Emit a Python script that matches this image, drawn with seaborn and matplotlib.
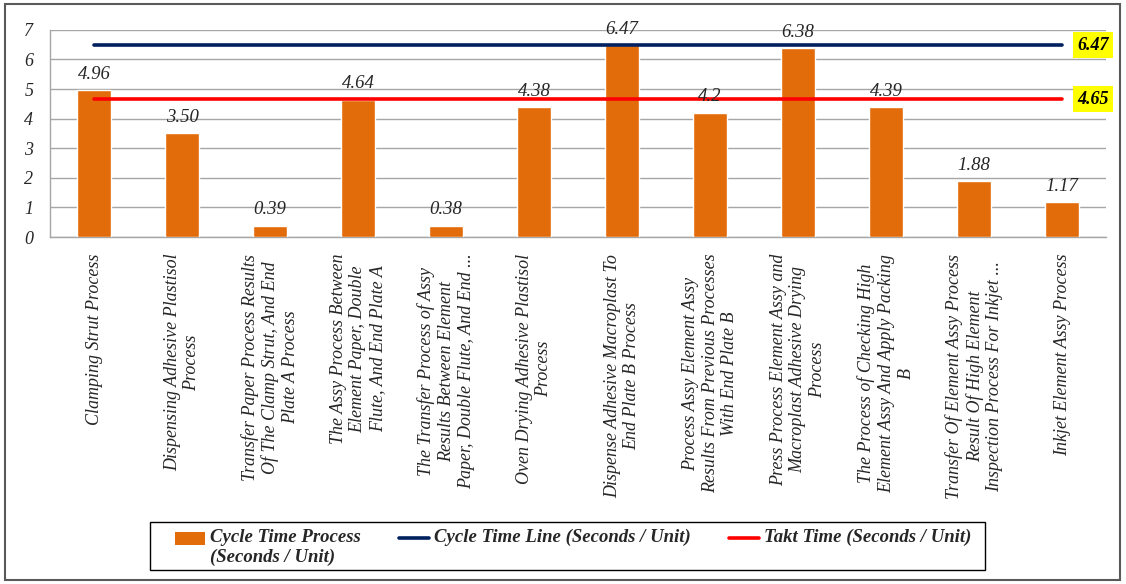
import matplotlib
matplotlib.use("Agg")
import matplotlib.pyplot as plt
import numpy as np
import pandas as pd
import seaborn as sns
from matplotlib.patches import Rectangle, Patch
from matplotlib.lines import Line2D

categories = [
    "Clamping Strut Process",
    "Dispensing Adhesive Plastisol\nProcess",
    "Transfer Paper Process Results\nOf The Clamp Strut, And End\nPlate A Process",
    "The Assy Process Between\nElement Paper, Double\nFlute, And End Plate A",
    "The Transfer Process of Assy\nResults Between Element\nPaper, Double Flute, And End ...",
    "Oven Drying Adhesive Plastisol\nProcess",
    "Dispense Adhesive Macroplast To\nEnd Plate B Process",
    "Process Assy Element Assy\nResults From Previous Processes\nWith End Plate B",
    "Press Process Element Assy and\nMacroplast Adhesive Drying\nProcess",
    "The Process of Checking High\nElement Assy And Apply Packing\nB",
    "Transfer Of Element Assy Process\nResult Of High Element\nInspection Process For Inkjet ...",
    "Inkjet Element Assy Process",
]
cycle_times = [4.96, 3.50, 0.39, 4.64, 0.38, 4.38, 6.47, 4.2, 6.38, 4.39, 1.88, 1.17]
value_labels = ["4.96", "3.50", "0.39", "4.64", "0.38", "4.38", "6.47", "4.2", "6.38", "4.39", "1.88", "1.17"]
cycle_time_line = 6.47
takt_time = 4.65

sns.set_style("whitegrid")
plt.rcParams["font.family"] = ["Liberation Serif", "DejaVu Serif"]

BAR = "#E36C0A"
NAVY = "#002060"
RED = "#FF0000"
GRID = "#A6A6A6"

df = pd.DataFrame({"process": categories, "ct": cycle_times})

fig = plt.figure(figsize=(11.26, 5.84), dpi=100)
ax = fig.add_axes([0.0444, 0.594, 0.938, 0.355])

sns.barplot(data=df, x="process", y="ct", color=BAR, width=0.39,
            saturation=1, ax=ax, zorder=3)

n = len(categories)
x = np.arange(n)
ax.plot([x[0], x[-1]], [cycle_time_line] * 2, color=NAVY, lw=2.6, zorder=4)
ax.plot([x[0], x[-1]], [takt_time] * 2, color=RED, lw=2.6, zorder=4)

for xi, v, lab in zip(x, cycle_times, value_labels):
    ax.text(xi, v + 0.25, lab, ha="center", va="bottom", fontsize=13.5,
            style="italic", color="#262626", zorder=5)

ax.set_xlim(-0.5, n - 0.5)
ax.set_ylim(0, 7)
ax.set_yticks(range(8))
ax.set_xlabel("")
ax.set_ylabel("")
ax.grid(axis="y", color=GRID, lw=1)
ax.grid(axis="x", visible=False)
for s in ["top", "right"]:
    ax.spines[s].set_visible(False)
for s in ["left", "bottom"]:
    ax.spines[s].set_color(GRID)
    ax.spines[s].set_linewidth(1)

ax.tick_params(axis="y", length=5, color=GRID, labelsize=13, pad=7)
for t in ax.get_yticklabels():
    t.set_fontstyle("italic")
    t.set_color("#262626")

# category boundary ticks
ax.set_xticks(np.arange(-0.5, n, 1.0), minor=True)
ax.tick_params(axis="x", which="minor", length=6, color=GRID, direction="out")
ax.tick_params(axis="x", which="major", length=0, pad=12)
ax.set_xticks(x)
ax.set_xticklabels(categories, rotation=90, ha="center", va="top",
                   multialignment="center", fontsize=13, style="italic",
                   color="#262626", linespacing=1.2)

# highlighted end values
for val, lab in [(cycle_time_line, "6.47"), (takt_time, "4.65")]:
    ax.annotate(lab, xy=(1.0, val), xycoords=("axes fraction", "data"),
                xytext=(2, 0), textcoords="offset points",
                ha="right", va="center", fontsize=13, weight="bold",
                style="italic", color="black", annotation_clip=False,
                bbox=dict(boxstyle="square,pad=0.25", fc="#FFFF00", ec="none"),
                zorder=6)

handles = [
    Patch(facecolor=BAR, edgecolor="none"),
    Line2D([0], [0], color=NAVY, lw=2.6),
    Line2D([0], [0], color=RED, lw=2.6),
]
labels = [
    "Cycle Time Process\n(Seconds / Unit)",
    "Cycle Time Line (Seconds / Unit)\n ",
    "Takt Time (Seconds / Unit)\n ",
]
leg = fig.legend(handles, labels, loc="center", bbox_to_anchor=(0.509, 0.063),
                 ncol=3, frameon=False,
                 handlelength=1.6, handletextpad=0.3, columnspacing=2.0,
                 borderpad=0.3, labelspacing=0.2,
                 prop={"family": "Liberation Serif", "style": "italic",
                       "weight": "bold", "size": 13.5})
# lift the keys to the first text line
for h in leg.legend_handles:
    if isinstance(h, Line2D):
        h.set_ydata(np.asarray(h.get_ydata()) + 6.5)
    else:
        h.set_y(h.get_y() + 6.5)

# legend box and outer frame
fig.patches.append(Rectangle((0.1332, 0.024), 0.7416, 0.0822, transform=fig.transFigure,
                             fill=False, ec="black", lw=1.0))
fig.patches.append(Rectangle((0.004, 0.006), 0.991, 0.988, transform=fig.transFigure,
                             fill=False, ec="#595959", lw=1.5))

fig.savefig("out.png", dpi=100)
